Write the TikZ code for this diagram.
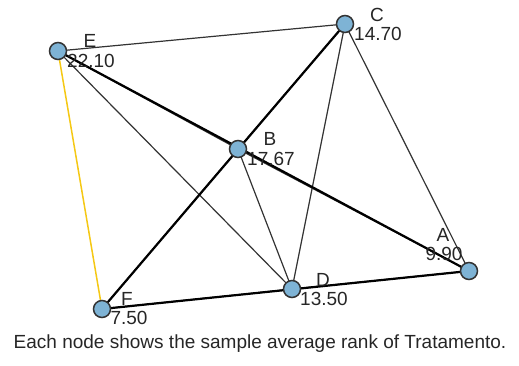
\documentclass[tikz,border=0pt]{standalone}
\usepackage{fontspec}
\setmainfont{Liberation Sans}
\usepackage{tikz}
\usetikzlibrary{positioning, backgrounds}
\definecolor{rankfill}{RGB}{126,179,213}
\definecolor{signif}{RGB}{245,200,20}

\begin{document}
\begin{tikzpicture}[
    x=1pt, y=-1pt,
    rank/.style={circle, draw=black!80, line width=1.5pt, fill=rankfill, minimum size=17pt, inner sep=0pt},
    link/.style={draw=black!80, line width=1.2pt},
    longlink/.style={draw=black, line width=2.2pt},
    siglink/.style={draw=signif, line width=1.5pt},
    lbl/.style={font=\fontsize{19}{20}\selectfont, inner sep=0pt, text=black!85}
]
\useasboundingbox (0,0) rectangle (519,365);

\node[rank] (E) at (58,51) {};
\node[rank] (C) at (345,24) {};
\node[rank] (B) at (238,149) {};
\node[rank] (A) at (469,271) {};
\node[rank] (D) at (292,289) {};
\node[rank] (F) at (102,309) {};

% edges (all pairs)
\begin{scope}[on background layer]
\draw[link] (E.center) -- (C.center);
\draw[link] (E.center) -- (D.center);
\draw[link] (C.center) -- (D.center);
\draw[link] (C.center) -- (A.center);
\draw[link] (B.center) -- (D.center);
\draw[link] (E.center) -- (B.center);
\draw[link] (B.center) -- (A.center);
\draw[link] (C.center) -- (B.center);
\draw[link] (B.center) -- (F.center);
\draw[link] (F.center) -- (D.center);
\draw[link] (D.center) -- (A.center);
\draw[longlink] (E.center) -- (A.center);
\draw[longlink] (C.center) -- (F.center);
\draw[longlink] (F.center) -- (A.center);
\draw[siglink] (E.center) -- (F.center);
\end{scope}

\node[lbl] (Ename) at (90,41) {E};
\node[lbl] (Eval) at (91,61) {22.10};
\node[lbl] (Cname) at (377,15) {C};
\node[lbl] (Cval) at (378,34) {14.70};
\node[lbl] (Bname) at (270,139) {B};
\node[lbl] (Bval) at (271,159) {17.67};
\node[lbl] (Aname) at (443,235) {A};
\node[lbl] (Aval) at (444,254) {9.90};
\node[lbl] (Dname) at (323,280) {D};
\node[lbl] (Dval) at (324,299) {13.50};
\node[lbl] (Fname) at (127,299) {F};
\node[lbl] (Fval) at (129,318) {7.50};

\node[lbl] (caption) at (260,344) {Each node shows the sample average rank of Tratamento.};
\end{tikzpicture}
\end{document}
